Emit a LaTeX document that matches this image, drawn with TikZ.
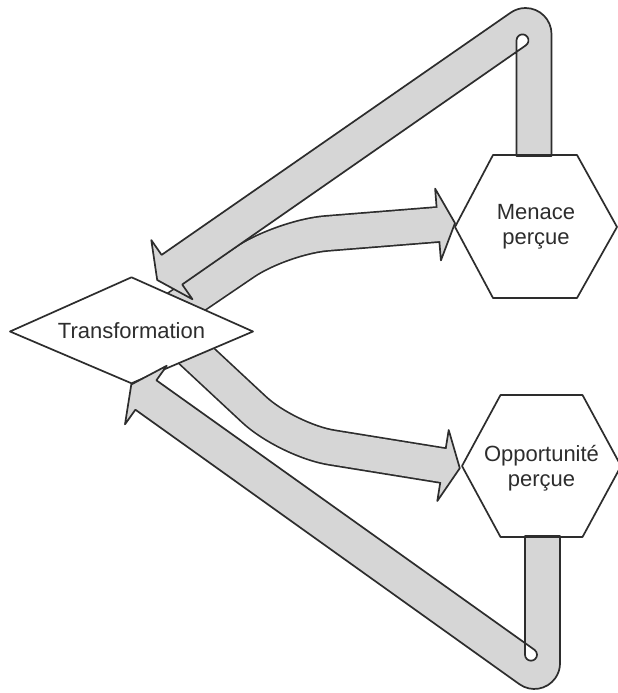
\documentclass[tikz,border=0pt]{standalone}
\usepackage{fontspec}
\setmainfont{Liberation Sans}
\definecolor{bandfill}{RGB}{214,214,214}
\definecolor{ink}{RGB}{45,45,45}
\tikzset{
  outline/.style={draw=ink, line width=1.7pt, line join=round},
  band/.style={outline, fill=bandfill, even odd rule},
  shapebox/.style={outline, fill=white},
  txt/.style={text=ink, font=\fontsize{22}{25}\selectfont, align=center, inner sep=0pt},
  shaftline/.style={draw=ink, line width=36.7pt, rounded corners=45pt},
  shaftfill/.style={draw=bandfill, line width=33.3pt, rounded corners=45pt},
}
\begin{document}
\begin{tikzpicture}[x=1pt,y=1pt]
\useasboundingbox (0,0) rectangle (618,-693);
\fill[white] (0,0) rectangle (618,-693);

% anchor points of the curved arrows
\coordinate (ua0) at (168.6,-313.8);
\coordinate (uac) at (281.7,-237);
\coordinate (uam) at (438,-224.5);
\coordinate (uaf) at (440,-224.34);
\coordinate (ub1) at (440.9,-260.4);
\coordinate (ub2) at (435.1,-188.6);
\coordinate (utip) at (455,-223.1);

\coordinate (la0) at (174.8,-335.7);
\coordinate (lac) at (287.1,-440.3);
\coordinate (lam) at (443,-465.5);
\coordinate (laf) at (445,-465.8);
\coordinate (lb1) at (437.3,-501);
\coordinate (lb2) at (448.7,-430);
\coordinate (ltip) at (459.8,-468.2);

% curved arrow towards "Menace percue"
\draw[shaftline] (ua0) -- (uac) -- (uam);
\filldraw[outline, fill=bandfill] (ub1) -- (utip) -- (ub2) -- cycle;
\draw[shaftfill] (ua0) -- (uac) -- (uaf);

% curved arrow towards "Opportunite percue"
\draw[shaftline] (la0) -- (lac) -- (lam);
\filldraw[outline, fill=bandfill] (lb1) -- (ltip) -- (lb2) -- cycle;
\draw[shaftfill] (la0) -- (lac) -- (laf);

% Transformation diamond
\draw[shapebox] (10,-331.5) -- (131.5,-277.3) -- (253,-331.5) -- (131.5,-383.3) -- cycle;

% feedback band from the threat back to the transformation
\path[band] (551.5,-156) -- (551.5,-34) arc[start angle=0,end angle=124.8,radius=26pt]
  -- (161.6,-254.9) -- (151.3,-240.1) -- (157.2,-280) -- (192.5,-299.3) -- (182.2,-284.5)
  -- (525.9,-45.3) arc[start angle=-55.2,end angle=180,radius=6pt]
  -- (516.5,-156) -- cycle;

% feedback band from the opportunity back to the transformation
\path[band] (525,-536) -- (525,-654.7) arc[start angle=180,end angle=414.5,radius=6pt]
  -- (156.4,-380.3) -- (166.8,-365.7) -- (131.3,-384.5) -- (125,-424.3) -- (135.4,-409.7)
  -- (519.4,-684.2) arc[start angle=234.5,end angle=360,radius=25.7pt]
  -- (560,-536) -- cycle;

% hexagons
\draw[outline] (455,-227) -- (493,-155) -- (577,-155) -- (617,-227) -- (577,-298) -- (493,-298) -- cycle;
\draw[outline] (462,-466) -- (500.5,-395) -- (582.5,-395) -- (621,-466) -- (582.5,-537) -- (500.5,-537) -- cycle;

% texts
\node[txt] (trans) at (131.5,-330.5) {Transformation};
\node[txt] (menace) at (536,-226.5) {Menace\\perçue};
\node[txt] (opport) at (541.5,-468) {Opportunité\\perçue};
\end{tikzpicture}
\end{document}
